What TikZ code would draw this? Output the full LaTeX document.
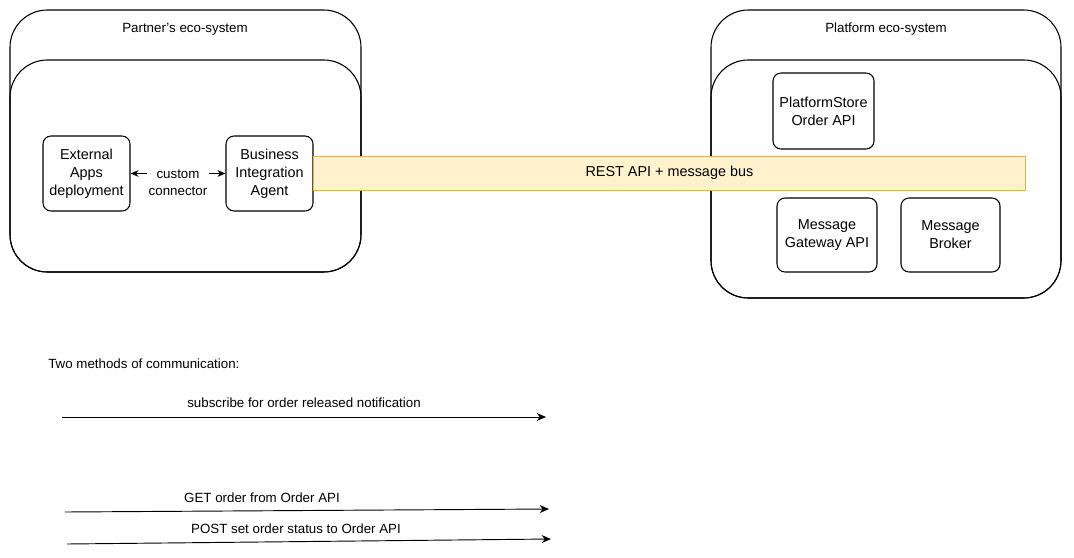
\documentclass[tikz,border=0pt]{standalone}
\usepackage{fontspec}
\setmainfont{Liberation Sans}
\usetikzlibrary{arrows.meta,positioning}

\definecolor{busfill}{HTML}{FFF2CC}
\definecolor{busline}{HTML}{D6B656}

\tikzset{
    eco/.style={draw, rounded corners=28pt, line width=0.8pt},
    box/.style={draw, rounded corners=6pt, line width=0.8pt, align=center, font=\fontsize{10.8}{13.5}\selectfont, inner sep=0pt},
    link/.style={-{Stealth[length=7pt,width=6pt]}, line width=0.7pt},
    lbl/.style={font=\fontsize{10}{12.5}\selectfont}
}

\begin{document}
\begin{tikzpicture}[x=0.75pt,y=-0.75pt]
    \useasboundingbox (0,0) rectangle (1074,557);

    % Partner side
    \draw[eco] (10,10) rectangle (361,272);
    \draw[eco] (10,60) rectangle (361,272);
    \node[lbl] (ptitle) at (185,29) {Partner's eco-system};
    \node[box, minimum width=87*0.75pt, minimum height=75*0.75pt] (ext) at (86.5,173.5) {External\\Apps\\deployment};
    \node[box, minimum width=87*0.75pt, minimum height=75*0.75pt] (bia) at (269.5,173.5) {Business\\Integration\\Agent};
    \draw[{Stealth[length=6pt,width=5pt]}-{Stealth[length=6pt,width=5pt]}, line width=0.7pt] (ext) -- node[lbl, align=center, fill=white, inner sep=1pt, yshift=-9*0.75pt] (cc) {custom\\connector} (bia);

    % Platform side
    \draw[eco] (711,10) rectangle (1061,298);
    \draw[eco] (711,60) rectangle (1061,298);
    \node[lbl] (ftitle) at (886,29) {Platform eco-system};
    \node[box, minimum width=101*0.75pt, minimum height=76*0.75pt] (store) at (823.5,111) {PlatformStore\\Order API};
    \node[box, minimum width=100*0.75pt, minimum height=74*0.75pt] (gw) at (827,235) {Message\\Gateway API};
    \node[box, minimum width=99*0.75pt, minimum height=74*0.75pt] (broker) at (950.5,235) {Message\\Broker};

    % bus
    \node[draw=busline, fill=busfill, line width=0.6pt, minimum width=712*0.75pt, minimum height=34*0.75pt, font=\fontsize{10.8}{13.5}\selectfont, inner sep=0pt, anchor=west] (bus) at (313,173) {REST API + message bus};

    % legend
    \node[lbl, anchor=west, inner sep=0pt] (legend) at (48,364) {Two methods of communication:};
    \coordinate (s1) at (62,417);  \coordinate (e1) at (546,417);
    \coordinate (s2) at (65,512);  \coordinate (e2) at (549,509);
    \coordinate (s3) at (67,544);  \coordinate (e3) at (551,539);
    \draw[link] (s1) -- node[lbl, above=3pt] {subscribe for order released notification} (e1);
    \draw[link] (s2) -- node[lbl, above=2pt, xshift=-45*0.75pt] {GET order from Order API} (e2);
    \draw[link] (s3) -- node[lbl, above=2pt, xshift=-13*0.75pt] {POST set order status to Order API} (e3);
\end{tikzpicture}
\end{document}
